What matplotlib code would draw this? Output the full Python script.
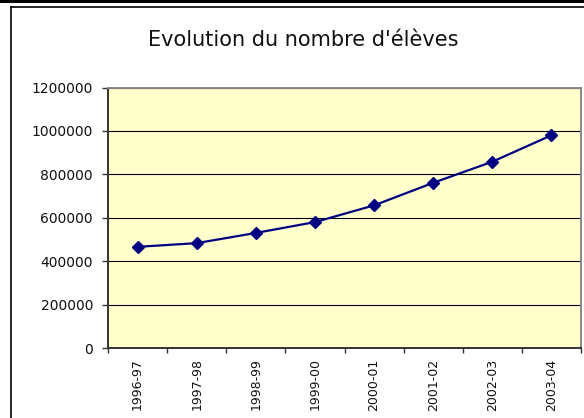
import matplotlib
matplotlib.use("Agg")
import matplotlib.pyplot as plt
from matplotlib.lines import Line2D
from matplotlib.patches import Rectangle
import numpy as np

# === Data ===
years = ["1996-97", "1997-98", "1998-99", "1999-00",
         "2000-01", "2001-02", "2002-03", "2003-04"]
eleves = [466000, 483000, 530000, 580000, 657000, 761000, 858000, 980000]
y_ticks = [0, 200000, 400000, 600000, 800000, 1000000, 1200000]

W, H = 584, 418
fig = plt.figure(figsize=(W / 100, H / 100), dpi=100)
fig.patch.set_facecolor("white")

# outer frame (black band at very top + chart border)
fig.add_artist(Rectangle((0, 1 - 3 / H), 1, 3 / H, transform=fig.transFigure,
                         facecolor="black", edgecolor="none"))
fig.add_artist(Line2D([10.8 / W, 10.8 / W], [0, 1 - 7.3 / H],
                      transform=fig.transFigure, color="black", lw=1.2))
fig.add_artist(Line2D([10.8 / W, 1], [1 - 7.3 / H, 1 - 7.3 / H],
                      transform=fig.transFigure, color="black", lw=1.2))

# plot area
left, right, top, bottom = 108, 581, 87.5, 348
ax = fig.add_axes([left / W, (H - bottom) / H, (right - left) / W, (bottom - top) / H])
ax.set_facecolor("#FFFFCC")

x = np.arange(len(years))
ax.plot(x, eleves, color="#000080", lw=1.6, marker="D", markersize=6,
        markerfacecolor="#000080", markeredgecolor="#000080", zorder=3)

ax.set_xlim(-0.5, len(years) - 0.5)
ax.set_ylim(0, 1200000)
ax.set_yticks(y_ticks)
ax.set_yticklabels([str(v) for v in y_ticks], fontsize=10, color="#111111")
ax.yaxis.grid(True, color="black", lw=0.8, zorder=1)
ax.set_axisbelow(True)

# category labels at centres, tick marks at boundaries
ax.set_xticks(x)
ax.set_xticklabels(years, rotation=90, fontsize=9, color="#111111")
ax.set_xticks(np.arange(len(years) + 1) - 0.5, minor=True)
ax.tick_params(axis="x", which="major", length=0, pad=7.5)
ax.tick_params(axis="x", which="minor", length=3.5, width=1, color="#333333", direction="out")
ax.tick_params(axis="y", length=4.3, width=1, color="#333333", direction="out", pad=6.5)

for s in ["left", "bottom"]:
    ax.spines[s].set_color("#333333")
    ax.spines[s].set_linewidth(1.4)
for s in ["top", "right"]:
    ax.spines[s].set_color("#888888")
    ax.spines[s].set_linewidth(1.4)

fig.text(303 / W, 1 - 40 / H, "Evolution du nombre d'élèves", fontsize=15,
         ha="center", va="center", color="#111111")

fig.savefig("out.png", dpi=100)
